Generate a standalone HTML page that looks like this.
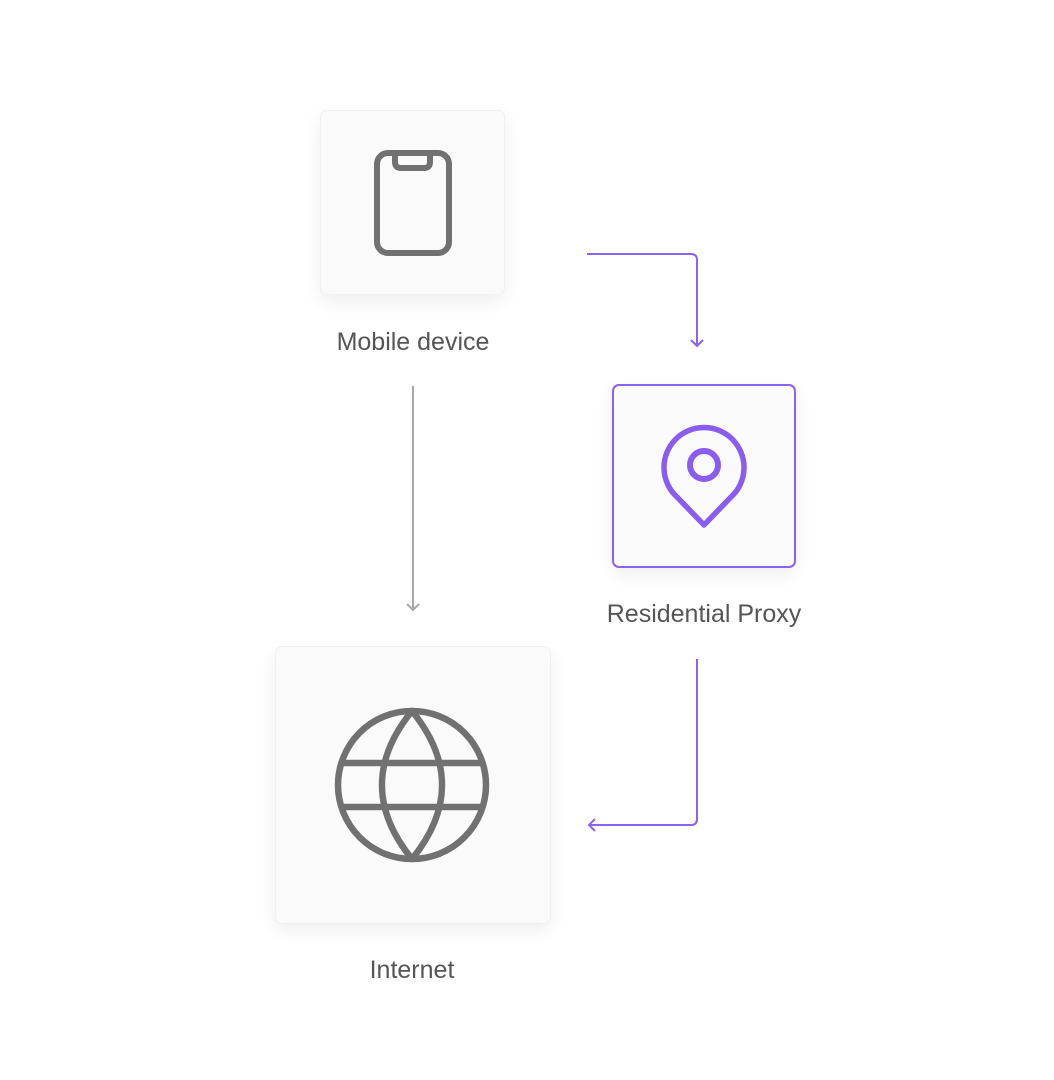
<!DOCTYPE html>
<html><head><meta charset="utf-8"><style>
html,body{margin:0;padding:0;background:#fff;width:1054px;height:1080px;overflow:hidden;}
.box{position:absolute;background:#fafafb;border-radius:7px;box-shadow:0 6px 18px rgba(0,0,0,0.07);border:1px solid #f0f0f2;box-sizing:border-box;}
.lbl{position:absolute;font-family:"Liberation Sans",sans-serif;font-size:25px;color:#555;text-align:center;width:300px;line-height:30px;}
</style></head><body>
<div class="box" style="left:320px;top:110px;width:185px;height:185px;"></div>
<div class="box" style="left:612px;top:384px;width:184px;height:184px;border:2px solid #8a63ee;"></div>
<div class="box" style="left:275px;top:646px;width:276px;height:278px;"></div>
<div class="lbl" style="left:263px;top:327px;">Mobile device</div>
<div class="lbl" style="left:554px;top:599px;">Residential Proxy</div>
<div class="lbl" style="left:262px;top:955px;">Internet</div>
<svg width="1054" height="1080" style="position:absolute;left:0;top:0" xmlns="http://www.w3.org/2000/svg">
<g fill="none" stroke="#717171" stroke-width="6" stroke-linejoin="round">
<rect x="377" y="153" width="72" height="100" rx="11"/>
<path d="M395 153 V162 Q395 168 401 168 H424 Q430 168 430 162 V153"/>
</g>
<g fill="none" stroke="#717171" stroke-width="6.5" stroke-linejoin="round">
<circle cx="412" cy="785" r="74"/>
<path d="M412 711 C372 760 372 810 412 859 C452 810 452 760 412 711Z"/>
<line x1="340" y1="763" x2="484" y2="763"/>
<line x1="340" y1="807" x2="484" y2="807"/>
</g>
<g fill="none" stroke="#8a5cf0" stroke-width="5.5" stroke-linejoin="round">
<path d="M704 525 L677 497 A40 40 0 1 1 731 497 Z"/>
<circle cx="704" cy="465" r="14" stroke-width="6"/>
</g>
<g fill="none" stroke="#a9a9a9" stroke-width="2">
<line x1="413" y1="386" x2="413" y2="609"/>
<path d="M407 604 L413 610 L419 604"/>
</g>
<g fill="none" stroke="#8b62f2" stroke-width="2">
<path d="M587 254 H691 Q697 254 697 260 V346"/>
<path d="M691 340 L697 346 L703 340"/>
<path d="M697 659 V819 Q697 825 691 825 H589"/>
<path d="M595 819 L589 825 L595 831"/>
</g>
</svg>
</body></html>
